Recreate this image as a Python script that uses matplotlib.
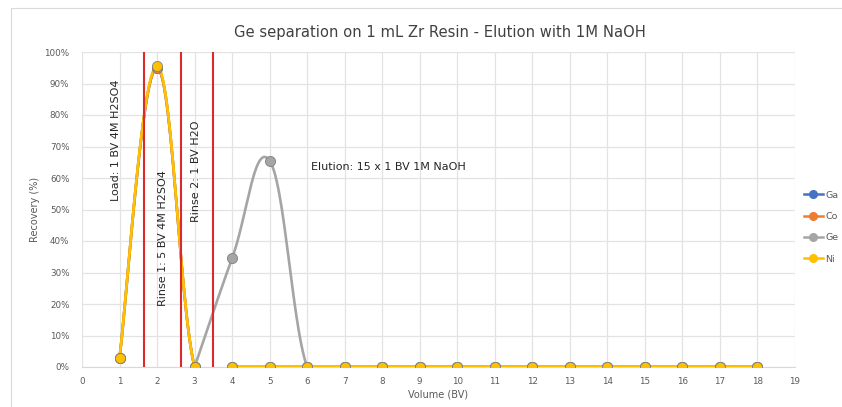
import numpy as np
import matplotlib
matplotlib.use("Agg")
import matplotlib.pyplot as plt
from matplotlib.lines import Line2D
from matplotlib.patches import Rectangle

# ---- data ----
volume = list(range(1, 19))
ga = [3, 95, 0] + [0] * 15
co = [3, 95, 0] + [0] * 15
ge_x = list(range(3, 19))
ge = [0, 34.5, 65.5, 0] + [0] * 12
ni = [3, 95.5, 0] + [0] * 15
series_names = ["Ga", "Co", "Ge", "Ni"]
colors = ["#4472C4", "#ED7D31", "#A5A5A5", "#FFC000"]
dividers = [1.65, 2.65, 3.48]
title = "Ge separation on 1 mL Zr Resin - Elution with 1M NaOH"


def smooth(x, y, n=30, k=1 / 5):
    x = np.asarray(x, float)
    y = np.asarray(y, float)
    P = np.column_stack([x, y])
    Pe = np.vstack([P[0], P, P[-1]])
    out = []
    t = np.linspace(0, 1, n)[:, None]
    for i in range(len(P) - 1):
        p0 = Pe[i + 1]
        p3 = Pe[i + 2]
        c1 = p0 + (Pe[i + 2] - Pe[i]) * k
        c2 = p3 - (Pe[i + 3] - Pe[i + 1]) * k
        seg = ((1 - t) ** 3) * p0 + 3 * ((1 - t) ** 2) * t * c1 + 3 * (1 - t) * t ** 2 * c2 + t ** 3 * p3
        out.append(seg if i == 0 else seg[1:])
    s = np.vstack(out)
    return s[:, 0], s[:, 1]


fig = plt.figure(figsize=(8.42, 4.07), dpi=100)
fig.patches.append(Rectangle((11 / 842, -0.1), 2, 1.1 - 8 / 407, transform=fig.transFigure,
                             fill=False, ec="#D9D9D9", lw=0.8))
ax = fig.add_axes([82 / 842, 1 - 367 / 407, (795 - 82) / 842, (367 - 52) / 407])

data = [(volume, ga), (volume, co), (ge_x, ge), (volume, ni)]
for (xs, ys), c, name in zip(data, colors, series_names):
    sx, sy = smooth(xs, ys)
    ax.plot(sx, sy, color=c, lw=1.9, zorder=3, solid_capstyle="round")
    ax.plot(xs, ys, ls="none", marker="o", ms=7.3, mfc=c, mec="#808080", mew=0.6, zorder=4)

for d in dividers:
    ax.axvline(d, color="#D92B2B", lw=1.5, zorder=5)

ax.set_xlim(0, 19)
ax.set_ylim(0, 100)
ax.set_xticks(range(0, 20))
ax.set_yticks(range(0, 101, 10))
ax.set_yticklabels([f"{v}%" for v in range(0, 101, 10)])
ax.grid(True, color="#E3E3E3", lw=0.9, zorder=0)
ax.set_axisbelow(True)
for s in ["top", "right", "left"]:
    ax.spines[s].set_visible(False)
ax.spines["bottom"].set_color("#D9D9D9")
ax.tick_params(length=0, labelsize=6.3, colors="#595959")
ax.tick_params(axis="y", pad=9)
ax.tick_params(axis="x", pad=7)

ax.set_xlabel("Volume (BV)", fontsize=7, color="#595959", labelpad=3)
ax.set_ylabel("Recovery (%)", fontsize=7, color="#595959", labelpad=3)

fig.text(440 / 842, 1 - 32 / 407, title, ha="center", va="center",
         fontsize=10.6, color="#404040")

tc = "#262626"
fs = 8.0
ax.text(0.9, 72, "Load: 1 BV 4M H2SO4", rotation=90, ha="center", va="center", fontsize=fs, color=tc, zorder=6)
ax.text(2.15, 41, "Rinse 1: 5 BV 4M H2SO4", rotation=90, ha="center", va="center", fontsize=fs, color=tc, zorder=6)
ax.text(3.03, 62, "Rinse 2: 1 BV H2O", rotation=90, ha="center", va="center", fontsize=fs, color=tc, zorder=6)
ax.text(6.1, 63.5, "Elution: 15 x 1 BV 1M NaOH", ha="left", va="center", fontsize=fs, color=tc, zorder=6)

handles = [Line2D([0], [0], color=c, lw=1.8, marker="o", ms=5.5, mfc=c, mec=c) for c in colors]
fig.legend(handles, series_names, loc="upper left", bbox_to_anchor=(800 / 842, 1 - 187 / 407),
           frameon=False, fontsize=6.8, labelcolor="#595959", handlelength=2.0,
           labelspacing=1.3, handletextpad=0.25, borderaxespad=0)

fig.savefig("out.png", dpi=100)
